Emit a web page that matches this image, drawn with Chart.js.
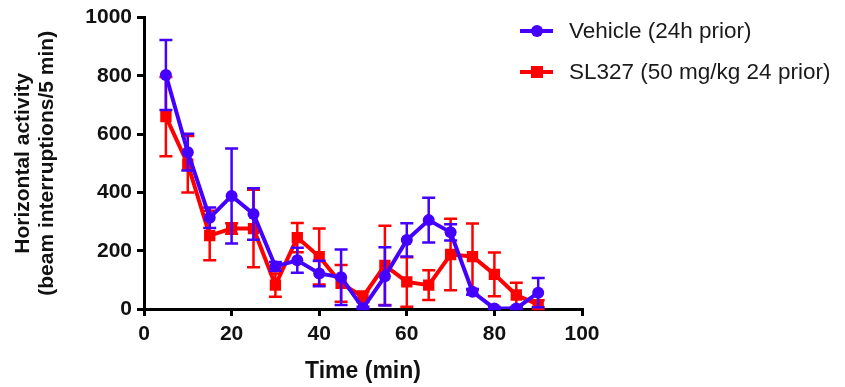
<!DOCTYPE html>
<html>
<head>
<meta charset="utf-8">
<script src="https://cdn.jsdelivr.net/npm/chart.js@4.4.0/dist/chart.umd.min.js"></script>
<style>
  html, body { margin: 0; padding: 0; background: #fff; }
</style>
</head>
<body>
<canvas id="activityChart" width="845" height="387"></canvas>
<script>
// time points (min)
const timePoints = [5, 10, 15, 20, 25, 30, 35, 40, 45, 50, 55, 60, 65, 70, 75, 80, 85, 90];

// Vehicle (24h prior): mean and SEM
const vehicleMean = [803, 538, 313, 388, 326, 146, 167, 122, 109, 3, 112, 237, 305, 263, 59, 2, 2, 56];
const vehicleErr  = [120, 63, 35, 163, 88, 15, 43, 44, 95, 5, 100, 57, 77, 28, 10, 5, 5, 50];

// SL327 (50 mg/kg 24 prior): mean and SEM
const slMean = [660, 497, 252, 276, 276, 82, 245, 180, 88, 42, 150, 93, 82, 187, 180, 119, 48, 15];
const slErr  = [136, 97, 85, 18, 133, 40, 50, 96, 63, 18, 136, 85, 51, 123, 113, 75, 42, 15];

const xTicks = [0, 20, 40, 60, 80, 100];
const yTicks = [0, 200, 400, 600, 800, 1000];

const BLUE = '#4400ff';
const RED = '#ff0000';
const FONT = '"Liberation Sans", Arial, sans-serif';

function toPoints(xs, ys) {
  return xs.map((x, i) => ({ x: x, y: ys[i] }));
}

// draws each dataset's error bars just before that dataset
const errorBars = {
  id: 'errorBars',
  beforeDatasetDraw(chart, args) {
    const ds = chart.data.datasets[args.index];
    if (!ds.errors) return;
    const ctx = chart.ctx;
    const xs = chart.scales.x, ys = chart.scales.y;
    ctx.save();
    ctx.strokeStyle = ds.borderColor;
    ctx.lineWidth = 2.5;
    ds.data.forEach((p, i) => {
      const e = ds.errors[i];
      const px = xs.getPixelForValue(p.x);
      const top = ys.getPixelForValue(p.y + e);
      const bot = ys.getPixelForValue(Math.max(0, p.y - e));
      ctx.beginPath();
      ctx.moveTo(px, top); ctx.lineTo(px, bot);
      ctx.moveTo(px - 6.5, top); ctx.lineTo(px + 6.5, top);
      ctx.moveTo(px - 6.5, bot); ctx.lineTo(px + 6.5, bot);
      ctx.stroke();
    });
    ctx.restore();
  }
};

// legend in the upper right, like the original figure
const sideLegend = {
  id: 'sideLegend',
  afterDraw(chart) {
    const ctx = chart.ctx;
    const items = [
      { label: chart.data.datasets[0].label, color: BLUE, shape: 'circle', y: 31 },
      { label: chart.data.datasets[1].label, color: RED, shape: 'rect', y: 72 }
    ];
    ctx.save();
    items.forEach(it => {
      ctx.strokeStyle = it.color;
      ctx.fillStyle = it.color;
      ctx.lineWidth = 4;
      ctx.beginPath();
      ctx.moveTo(520, it.y); ctx.lineTo(553, it.y);
      ctx.stroke();
      ctx.beginPath();
      if (it.shape === 'circle') ctx.arc(537, it.y, 6, 0, Math.PI * 2);
      else ctx.rect(531, it.y - 6, 12, 12);
      ctx.fill();
      ctx.fillStyle = '#1a1a1a';
      ctx.font = '22.5px ' + FONT;
      ctx.textBaseline = 'middle';
      ctx.fillText(it.label, 569, it.y + 1);
    });
    ctx.restore();
  }
};

const ctx = document.getElementById('activityChart');
new Chart(ctx, {
  type: 'line',
  data: {
    datasets: [
      {
        label: 'Vehicle (24h prior)',
        data: toPoints(timePoints, vehicleMean),
        errors: vehicleErr,
        borderColor: BLUE,
        backgroundColor: BLUE,
        borderWidth: 4,
        pointStyle: 'circle',
        pointRadius: 6,
        pointBorderWidth: 0,
        tension: 0
      },
      {
        label: 'SL327 (50 mg/kg 24 prior)',
        data: toPoints(timePoints, slMean),
        errors: slErr,
        borderColor: RED,
        backgroundColor: RED,
        borderWidth: 4,
        pointStyle: 'rect',
        pointRadius: 8,
        pointBorderWidth: 0,
        tension: 0
      }
    ]
  },
  options: {
    responsive: false,
    animation: false,
    events: [],
    layout: { padding: { top: 15, right: 263, left: 0, bottom: 0 } },
    plugins: {
      legend: { display: false },
      tooltip: { enabled: false }
    },
    scales: {
      x: {
        type: 'linear',
        min: 0,
        max: 100,
        afterBuildTicks: (s) => { s.ticks = xTicks.map(v => ({ value: v })); },
        afterFit: (s) => { s.height = 78; },
        border: { color: '#000', width: 3 },
        grid: { drawOnChartArea: false, color: '#000', lineWidth: 3, tickLength: 7 },
        ticks: {
          color: '#111',
          padding: 6,
          callback: (v) => String(v),
          font: { family: FONT, size: 21, weight: 'bold' }
        },
        title: {
          display: true,
          text: 'Time (min)',
          color: '#111',
          padding: { top: 4, bottom: 2 },
          font: { family: FONT, size: 23, weight: 'bold' }
        }
      },
      y: {
        min: 0,
        max: 1000,
        afterBuildTicks: (s) => { s.ticks = yTicks.map(v => ({ value: v })); },
        afterFit: (s) => { s.width = 144; },
        border: { color: '#000', width: 3 },
        grid: { drawOnChartArea: false, color: '#000', lineWidth: 3, tickLength: 7 },
        ticks: {
          color: '#111',
          padding: 5,
          callback: (v) => String(v),
          font: { family: FONT, size: 21, weight: 'bold' }
        },
        title: {
          display: true,
          text: ['Horizontal activity', '(beam interruptions/5 min)'],
          color: '#111',
          padding: { top: 11, bottom: 0 },
          font: { family: FONT, size: 21, weight: 'bold', lineHeight: 1.15 }
        }
      }
    }
  },
  plugins: [errorBars, sideLegend]
});
</script>
</body>
</html>
